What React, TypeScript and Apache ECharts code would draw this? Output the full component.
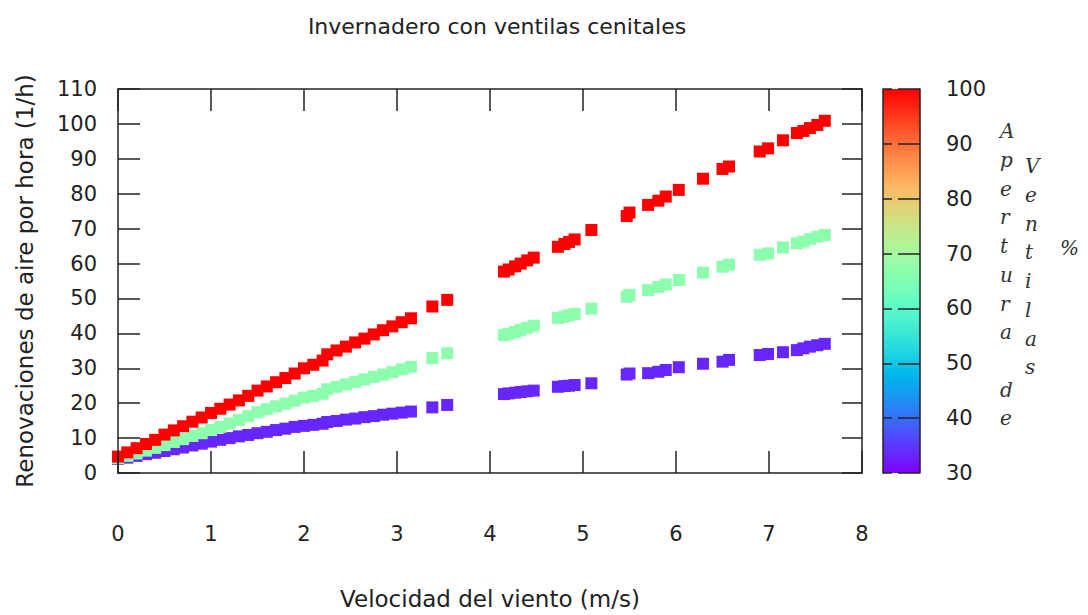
import React, { useEffect, useRef } from "react";
import * as echarts from "echarts";

const windSpeed = [
  0, 0.1, 0.2, 0.3, 0.4, 0.5, 0.6, 0.7, 0.8, 0.9, 1.0, 1.1, 1.2, 1.3, 1.4, 1.5, 1.6, 1.7, 1.8, 1.9, 2.0, 2.1, 2.2,
  2.25, 2.35, 2.45, 2.55, 2.65, 2.75, 2.85, 2.95, 3.05, 3.15,
  3.38, 3.54, 4.15, 4.2, 4.27, 4.33, 4.4, 4.47, 4.73, 4.8, 4.85, 4.91, 5.09, 5.47, 5.5, 5.7, 5.81, 5.89, 6.03,
  6.29, 6.5, 6.57, 6.9, 6.99, 7.15, 7.3, 7.37, 7.44, 7.52, 7.6,
];

const ach100 = [
  4.7, 5.9, 7.1, 8.3, 9.5, 11.0, 12.2, 13.4, 14.7, 15.9, 17.2, 18.4, 19.6, 20.8, 22.1, 23.6, 24.8, 26.0, 27.2, 28.5, 30.0, 31.0, 32.2,
  34.0, 35.1, 36.2, 37.4, 38.5, 39.7, 40.9, 42.0, 43.2, 44.3,
  47.7, 49.6, 57.7, 58.3, 59.2, 60.0, 60.9, 61.7, 64.8, 65.6, 66.2, 66.9, 69.6, 73.6, 74.6, 76.8, 78.0, 79.2, 81.1,
  84.3, 87.1, 87.8, 92.1, 93.0, 95.3, 97.4, 98.0, 98.8, 99.7, 100.9,
];

const ach67 = [
  4.2, 4.9, 5.6, 6.4, 7.2, 8.0, 8.9, 9.7, 10.6, 11.4, 12.3, 13.2, 14.2, 15.2, 16.3, 17.4, 18.3, 19.1, 19.9, 20.7, 21.6, 22.1, 22.7,
  24.0, 24.7, 25.4, 26.1, 26.8, 27.5, 28.2, 28.9, 29.7, 30.4,
  32.9, 34.3, 39.5, 39.9, 40.4, 41.0, 41.6, 42.2, 44.4, 44.8, 45.2, 45.6, 47.1, 50.5, 51.0, 52.4, 53.3, 54.0, 55.3,
  57.4, 59.1, 59.7, 62.5, 62.9, 64.6, 65.8, 66.3, 67.0, 67.7, 68.2,
];

const ach33 = [
  4.0, 4.4, 4.9, 5.4, 5.8, 6.3, 6.8, 7.3, 7.9, 8.4, 9.0, 9.5, 10.0, 10.5, 10.9, 11.4, 11.8, 12.3, 12.7, 13.2, 13.5, 13.8, 14.1,
  14.6, 14.9, 15.3, 15.6, 16.0, 16.3, 16.7, 17.0, 17.3, 17.6,
  18.8, 19.5, 22.6, 22.8, 23.0, 23.2, 23.4, 23.6, 24.7, 24.9, 25.0, 25.2, 25.7, 28.2, 28.5, 28.6, 29.0, 29.5, 30.3,
  31.3, 31.9, 32.4, 33.8, 34.1, 34.6, 35.2, 35.7, 36.2, 36.6, 37.0,
];

const apertures = [33.3, 66.7, 100];
const seriesValues = [ach33, ach67, ach100];
const xTicks = [0, 1, 2, 3, 4, 5, 6, 7, 8];
const yTicks = [0, 10, 20, 30, 40, 50, 60, 70, 80, 90, 100, 110];
const cbTicks = [30, 40, 50, 60, 70, 80, 90, 100];
const CB_MIN = cbTicks[0];
const CB_MAX = cbTicks[cbTicks.length - 1];

const title = "Invernadero con ventilas cenitales";
const xName = "Velocidad del viento (m/s)";
const yName = "Renovaciones de aire por hora (1/h)";
const cbCol1 = "Apertura de";
const cbCol2 = "Ventilas";
const cbCol3 = "%";

// gnuplot rgbformulae 33,13,10 palette
function palette(v: number): string {
  const t = Math.min(1, Math.max(0, (v - CB_MIN) / (CB_MAX - CB_MIN)));
  const r = Math.min(1, Math.abs(2 * t - 0.5));
  const g = Math.max(0, Math.sin(Math.PI * t));
  const b = Math.max(0, Math.cos((Math.PI * t) / 2));
  const h = (c: number) => Math.round(c * 255).toString(16).padStart(2, "0");
  return "#" + h(r) + h(g) + h(b);
}

const FONT = "DejaVu Sans";
const INK = "#222";

export default function App() {
  const ref = useRef<HTMLDivElement>(null);
  useEffect(() => {
    if (!ref.current) return;
    const chart = echarts.init(ref.current, null, { renderer: "svg" });

    const stops: { offset: number; color: string }[] = [];
    for (let i = 0; i <= 20; i++) {
      stops.push({ offset: i / 20, color: palette(CB_MAX - (i / 20) * (CB_MAX - CB_MIN)) });
    }

    const axisLine = { show: true, onZero: false, lineStyle: { color: INK, width: 1.5 } };
    const tickStyle = { color: INK, width: 1.5 };

    const scatterSeries = seriesValues.map((vals, i) => ({
      type: "scatter",
      name: String(apertures[i]),
      xAxisIndex: 0,
      yAxisIndex: 0,
      symbol: "rect",
      symbolSize: 12,
      itemStyle: { color: palette(apertures[i]), opacity: 1 },
      data: vals.map((v, j) => [windSpeed[j], v]),
      z: 2 + i,
    }));

    const option: any = {
      animation: false,
      backgroundColor: "#ffffff",
      title: {
        text: title,
        left: 492,
        textAlign: "center",
        top: 10,
        textStyle: { fontFamily: FONT, fontSize: 22, fontWeight: "normal", color: INK },
      },
      grid: [
        { left: 118, top: 89, width: 744, height: 384, show: false },
        { left: 883, top: 89, width: 37, height: 384, show: false },
      ],
      xAxis: [
        {
          gridIndex: 0,
          type: "value",
          min: xTicks[0],
          max: xTicks[xTicks.length - 1],
          interval: 1,
          position: "bottom",
          axisLine,
          axisTick: { show: true, inside: true, length: 22, lineStyle: tickStyle },
          axisLabel: { margin: 50, fontFamily: FONT, fontSize: 21, color: INK },
          splitLine: { show: false },
          name: xName,
          nameLocation: "middle",
          nameGap: 114,
          nameTextStyle: { fontFamily: FONT, fontSize: 23, color: INK },
          z: 10,
        },
        {
          gridIndex: 0,
          type: "value",
          min: xTicks[0],
          max: xTicks[xTicks.length - 1],
          interval: 1,
          position: "top",
          axisLine,
          axisTick: { show: true, inside: true, length: 22, lineStyle: tickStyle },
          axisLabel: { show: false },
          splitLine: { show: false },
          z: 10,
        },
        {
          gridIndex: 1,
          type: "value",
          min: 0,
          max: 1,
          show: false,
        },
      ],
      yAxis: [
        {
          gridIndex: 0,
          type: "value",
          min: yTicks[0],
          max: yTicks[yTicks.length - 1],
          interval: 10,
          position: "left",
          axisLine,
          axisTick: { show: true, inside: true, length: 22, lineStyle: tickStyle },
          axisLabel: { margin: 21, fontFamily: FONT, fontSize: 21, color: INK },
          splitLine: { show: false },
          name: yName,
          nameLocation: "middle",
          nameGap: 82,
          nameTextStyle: { fontFamily: FONT, fontSize: 23, color: INK },
          z: 10,
        },
        {
          gridIndex: 0,
          type: "value",
          min: yTicks[0],
          max: yTicks[yTicks.length - 1],
          interval: 10,
          position: "right",
          axisLine,
          axisTick: { show: true, inside: true, length: 20, lineStyle: tickStyle },
          axisLabel: { show: false },
          splitLine: { show: false },
          z: 10,
        },
        {
          gridIndex: 1,
          type: "value",
          min: CB_MIN,
          max: CB_MAX,
          interval: 10,
          position: "right",
          axisLine,
          axisTick: { show: true, inside: true, length: 22, lineStyle: tickStyle },
          axisLabel: { margin: 26, fontFamily: FONT, fontSize: 21, color: INK, align: "left" },
          splitLine: { show: false },
          z: 10,
        },
        {
          gridIndex: 1,
          type: "value",
          min: CB_MIN,
          max: CB_MAX,
          interval: 10,
          position: "left",
          axisLine,
          axisTick: { show: true, inside: true, length: 9, lineStyle: tickStyle },
          axisLabel: { show: false },
          splitLine: { show: false },
          z: 10,
        },
      ],
      series: [
        ...scatterSeries,
        {
          type: "custom",
          xAxisIndex: 2,
          yAxisIndex: 2,
          data: [[0, CB_MIN, CB_MAX]],
          renderItem: (params: any, api: any) => {
            const top = api.coord([0, api.value(2)]);
            const bottom = api.coord([0, api.value(1)]);
            const cs = params.coordSys;
            return {
              type: "rect",
              shape: { x: cs.x, y: top[1], width: cs.width, height: bottom[1] - top[1] },
              style: { fill: new echarts.graphic.LinearGradient(0, 0, 0, 1, stops) },
            };
          },
          z: 1,
        },
      ],
      graphic: [
        {
          type: "text",
          left: 1000,
          top: 117,
          style: {
            text: cbCol1.split("").join("\n"),
            font: "italic 20px 'DejaVu Serif'",
            lineHeight: 28.7,
            fill: "#333",
            align: "center",
          },
        },
        {
          type: "text",
          left: 1025,
          top: 152,
          style: {
            text: cbCol2.split("").join("\n"),
            font: "italic 20px 'DejaVu Serif'",
            lineHeight: 28.7,
            fill: "#333",
            align: "center",
          },
        },
        {
          type: "text",
          left: 1060,
          top: 238,
          style: {
            text: cbCol3,
            font: "italic 20px 'DejaVu Serif'",
            fill: "#333",
          },
        },
      ],
    };
    chart.setOption(option);
    return () => chart.dispose();
  }, []);

  return (
    <div
      ref={ref}
      style={{ position: "fixed", left: 0, top: 0, width: 1088, height: 615, background: "#fff" }}
    />
  );
}
